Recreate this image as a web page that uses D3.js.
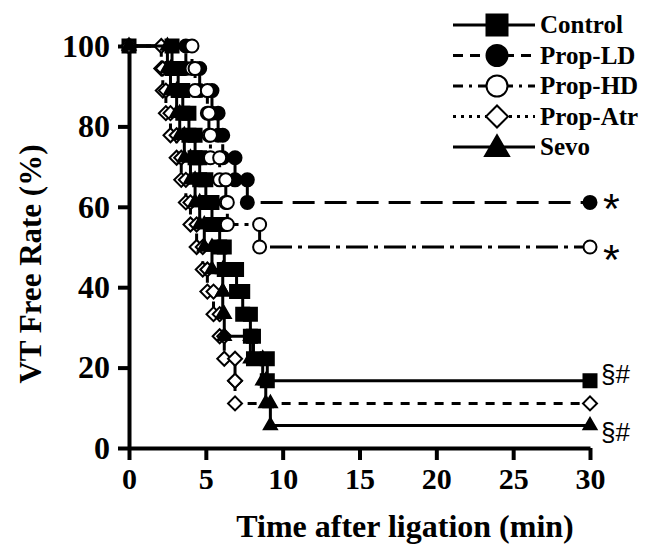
<!DOCTYPE html>
<html><head><meta charset="utf-8">
<script src="https://cdn.jsdelivr.net/npm/d3@7"></script>
<style>body{margin:0;background:#fff}</style>
</head><body><svg id="c" width="650" height="550"></svg>
<script>
// ---- data (Kaplan-Meier steps) ----
const groups = ["Control", "Prop-LD", "Prop-HD", "Prop-Atr", "Sevo"];
const controlTime = [2.8, 3.2, 3.5, 3.9, 4.3, 4.6, 5.0, 5.4, 5.9, 6.2, 7.0, 7.4, 7.9, 8.1, 9.0];
const controlRate = [94.4, 88.9, 83.3, 77.8, 72.2, 66.7, 61.1, 55.6, 50.0, 44.4, 38.9, 33.3, 27.8, 22.2, 16.7];
const propLDTime = [3.7, 4.6, 5.4, 5.8, 6.1, 6.9, 7.7];
const propLDRate = [94.4, 88.9, 83.3, 77.8, 72.2, 66.7, 61.1];
const propHDTime = [4.1, 4.3, 5.1, 5.2, 5.3, 5.9, 6.3, 6.4, 8.5];
const propHDRate = [94.4, 88.9, 83.3, 77.8, 72.2, 66.7, 61.1, 55.6, 50.0];
const propAtrTime = [2.1, 2.2, 2.4, 2.7, 3.1, 3.4, 3.7, 4.0, 4.4, 4.8, 5.1, 5.5, 5.9, 6.2, 6.9, 6.9];
const propAtrRate = [94.4, 88.9, 83.3, 77.8, 72.2, 66.7, 61.1, 55.6, 50.0, 44.4, 38.9, 33.3, 27.8, 22.2, 16.7, 11.1];
const sevoTime = [2.5, 2.7, 3.1, 3.3, 3.6, 4.0, 4.3, 4.6, 4.9, 5.4, 6.1, 6.1, 6.2, 7.9, 8.7, 8.9, 9.2];
const sevoRate = [94.4, 88.9, 83.3, 77.8, 72.2, 66.7, 61.1, 55.6, 50.0, 44.4, 38.9, 33.3, 27.8, 22.2, 16.7, 11.1, 5.6];
const startTime = 0, startRate = 100, endTime = 30;
const xTicks = [0, 5, 10, 15, 20, 25, 30];
const yTicks = [0, 20, 40, 60, 80, 100];
const marks = ["*", "*", "§#", "§#"];
const markGroups = ["Prop-LD", "Prop-HD", "Prop-Atr", "Sevo"];

// ---- styling ----
const times = [controlTime, propLDTime, propHDTime, propAtrTime, sevoTime];
const rates = [controlRate, propLDRate, propHDRate, propAtrRate, sevoRate];
const dash = [null, "22,10", "22,6,4,6", "9,8", null];
const legDash = [null, "10,7", "10,6,3,6", "3,5", null];
const shapes = ["square", "circle", "circle", "diamond", "triangle"];
const fills = ["#000", "#000", "#fff", "#fff", "#000"];
const markOffset = [21, 27, -20, 16];

const svg = d3.select("#c");
const x = d3.scaleLinear().domain([0, 30]).range([129, 590]);
const y = d3.scaleLinear().domain([0, 100]).range([448, 46]);
const serif = "'Liberation Serif','Times New Roman',serif";
const sans = "'Liberation Sans',Arial,sans-serif";

function symPath(shape, s) {
  if (shape === "square") return d3.symbol(d3.symbolSquare, s * s)();
  if (shape === "circle") return d3.symbol(d3.symbolCircle, Math.PI * s * s / 4)();
  if (shape === "diamond") return d3.symbol(d3.symbolSquare, (s / Math.SQRT2) ** 2)();
  return d3.symbol(d3.symbolTriangle, Math.sqrt(3) / 4 * s * s)();
}
function drawSym(g, shape, s, fill, cx, cy) {
  g.append("path").attr("d", symPath(shape, s))
    .attr("transform", `translate(${cx},${cy})` + (shape === "diamond" ? " rotate(45)" : ""))
    .attr("fill", fill).attr("stroke", "#000").attr("stroke-width", 2);
}

// axes
const yAxis = svg.append("g").attr("transform", "translate(129,0)")
  .call(d3.axisLeft(y).tickValues(yTicks).tickSize(11).tickSizeOuter(0).tickPadding(8));
const xAxis = svg.append("g").attr("transform", "translate(0,448)")
  .call(d3.axisBottom(x).tickValues(xTicks).tickSize(12).tickSizeOuter(0).tickPadding(8));
[yAxis, xAxis].forEach((a, k) => {
  a.select(".domain").attr("stroke-width", 4).attr("stroke", "#000");
  a.selectAll(".tick line").attr("stroke-width", 4).attr("stroke", "#000");
  a.selectAll(".tick text").attr("font-family", serif).attr("font-weight", "bold")
    .attr("font-size", k === 0 ? 32 : 30).attr("fill", "#000");
});

svg.append("text").attr("x", 405).attr("y", 537).attr("text-anchor", "middle")
  .attr("font-family", serif).attr("font-weight", "bold").attr("font-size", 32)
  .text("Time after ligation (min)");
svg.append("text").attr("transform", "translate(41,264) rotate(-90)").attr("text-anchor", "middle")
  .attr("font-family", serif).attr("font-weight", "bold").attr("font-size", 31)
  .text("VT Free Rate (%)");

// curves
const line = d3.line().x(d => x(d[0])).y(d => y(d[1])).curve(d3.curveStepAfter);
groups.forEach((name, i) => {
  const t = times[i], r = rates[i];
  const pts = [[startTime, startRate]].concat(t.map((tt, j) => [tt, r[j]]), [[endTime, r[r.length - 1]]]);
  const g = svg.append("g");
  g.append("path").attr("d", line(pts)).attr("fill", "none").attr("stroke", "#000")
    .attr("stroke-width", 3).attr("stroke-dasharray", dash[i]);
  const corners = [[startTime, startRate]];
  t.forEach((tt, j) => { corners.push([tt, j === 0 ? startRate : r[j - 1]]); corners.push([tt, r[j]]); });
  corners.push([endTime, r[r.length - 1]]);
  corners.forEach(c => drawSym(g, shapes[i], shapes[i] === "diamond" ? 14 : 13, fills[i], x(c[0]), y(c[1])));
});

// legend
groups.forEach((name, i) => {
  const ly = 25 + i * 30.5;
  const g = svg.append("g");
  g.append("line").attr("x1", 453).attr("x2", 535).attr("y1", ly).attr("y2", ly)
    .attr("stroke", "#000").attr("stroke-width", 3).attr("stroke-dasharray", legDash[i]);
  drawSym(g, shapes[i], shapes[i] === "diamond" ? 22 : (shapes[i] === "triangle" ? 24 : 21), fills[i], 497, ly + (shapes[i] === "triangle" ? 2 : 0));
  g.append("text").attr("x", 540).attr("y", ly + 8).attr("font-family", serif)
    .attr("font-weight", "bold").attr("font-size", 25).text(name);
});

// significance marks
marks.forEach((m, i) => {
  const gi = groups.indexOf(markGroups[i]);
  const rr = rates[gi];
  const yy = y(rr[rr.length - 1]);
  if (m === "*") {
    svg.append("text").attr("x", 603).attr("y", yy + markOffset[i]).attr("font-family", sans)
      .attr("font-size", 43).text(m);
  } else {
    svg.append("text").attr("x", 601).attr("y", yy + markOffset[i]).attr("font-family", sans)
      .attr("font-size", 26).text(m);
  }
});
</script></body></html>
